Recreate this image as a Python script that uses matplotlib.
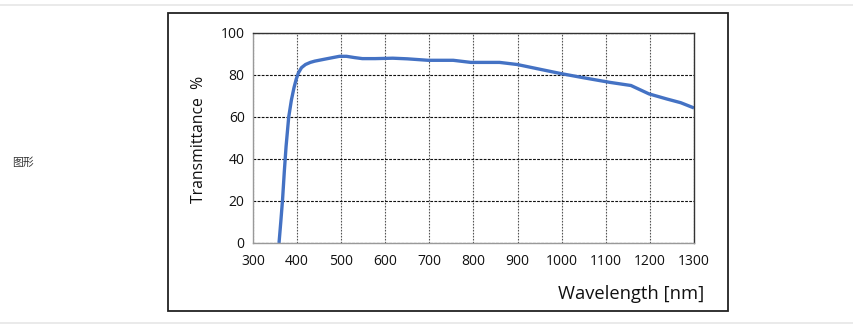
import matplotlib.pyplot as plt
from matplotlib.patches import Rectangle
from matplotlib.lines import Line2D

# curve
wavelength = [359, 363, 367, 371, 375, 381, 387, 393, 398, 403, 410, 419, 430, 440,
              464, 496, 512, 530, 548, 577, 617, 650, 697, 754, 794, 859, 899,
              956, 1000, 1052, 1109, 1157, 1198, 1238, 1270, 1300]
transmittance = [0, 10, 20.6, 34, 46, 60, 68, 74, 78, 81, 83.5, 85, 86, 86.6,
                 87.6, 88.9, 88.9, 88.3, 87.8, 87.8, 88, 87.7, 87, 87, 86, 86, 85,
                 82.5, 80.6, 78.6, 76.5, 75, 71, 68.6, 66.8, 64.3]
x_ticks = [300, 400, 500, 600, 700, 800, 900, 1000, 1100, 1200, 1300]
y_ticks = [0, 20, 40, 60, 80, 100]

plt.rcParams['font.family'] = ['Open Sans', 'DejaVu Sans']

fig = plt.figure(figsize=(8.54, 3.35), dpi=100)
W, H = 854, 335

# page lines and chart frame
for yy in (5, 323):
    fig.add_artist(Line2D([0, 1], [1 - yy / H, 1 - yy / H], color='#e6e6e6', lw=1.2))
fig.add_artist(Rectangle((168 / W, 1 - 311 / H), (728 - 168) / W, (311 - 13) / H,
                         fill=False, edgecolor='#222222', lw=1.3))
fig.text(12 / W, 1 - 163 / H, '图形', fontsize=7.8, va='center', ha='left',
         family=['Noto Sans CJK SC', 'DejaVu Sans'], color='#333333')

ax = fig.add_axes([253 / W, 1 - 243 / H, (694 - 253) / W, (243 - 33) / H])
ax.plot(wavelength, transmittance, color='#4472C4', lw=2.4, solid_capstyle='butt')
ax.set_xlim(300, 1300)
ax.set_ylim(0, 100)
ax.set_xticks(x_ticks)
ax.set_yticks(y_ticks)
ax.tick_params(length=0, labelsize=10, colors='#111111', pad=6)
ax.tick_params(axis='x', pad=8)
ax.xaxis.grid(True, linestyle=(0, (1.5, 1.2)), color='#555555', lw=0.8)
ax.yaxis.grid(True, linestyle=(0, (2.5, 1.2)), color='#111111', lw=0.8)
ax.set_axisbelow(True)
for s in ('top', 'right'):
    ax.spines[s].set_color('#333333')
for s in ('left', 'bottom'):
    ax.spines[s].set_color('#999999')
for s in ax.spines.values():
    s.set_linewidth(1.0)

fig.text(199 / W, 1 - 139 / H, 'Transmittance  %', rotation=90, fontsize=11.3,
         ha='center', va='center', color='#111111')
fig.text(704 / W, 1 - 294 / H, 'Wavelength [nm]', fontsize=13.2,
         ha='right', va='center', color='#111111')

fig.savefig('out.png', dpi=100)
